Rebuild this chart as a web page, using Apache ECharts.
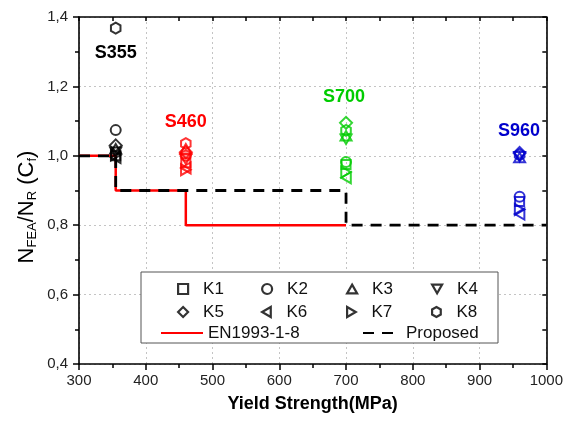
<!DOCTYPE html>
<html>
<head>
<meta charset="utf-8">
<script src="https://cdn.jsdelivr.net/npm/echarts@6/dist/echarts.min.js"></script>
<style>html,body{margin:0;padding:0;background:#fff}#c{width:566px;height:424px}</style>
</head>
<body>
<div id="c"></div>
<script>
// ---- data ----
const groupYield = [355, 460, 700, 960];
const groupNames = ['S355', 'S460', 'S700', 'S960'];
const K1 = [1.000, 0.980, 0.975, 0.868];
const K2 = [1.074, 1.000, 0.982, 0.882];
const K3 = [1.020, 1.020, 1.058, 0.995];
const K4 = [1.010, 0.990, 1.048, 0.997];
const K5 = [1.030, 1.010, 1.095, 1.008];
const K6 = [0.995, 0.965, 0.937, 0.832];
const K7 = [1.002, 0.960, 0.953, 0.845];
const K8 = [1.368, 1.035, 1.073, 1.003];
const enX = [300, 355, 355, 460, 460, 700];
const enY = [1.0, 1.0, 0.9, 0.9, 0.8, 0.8];
const propX = [300, 355, 355, 700, 700, 1000];
const propY = [1.0, 1.0, 0.9, 0.9, 0.8, 0.8];
const labelX = [355, 460, 697, 959];
const labelY = [1.296, 1.097, 1.169, 1.071];
const xTicks = [300, 400, 500, 600, 700, 800, 900, 1000];
const yTicks = [0.4, 0.6, 0.8, 1.0, 1.2, 1.4];

// ---- styles ----
const groupColors = ['#000000', '#ff0000', '#00cc00', '#0000cc'];
const FONT = "'Liberation Sans', Arial, sans-serif";
const symbols = {
  K1: 'path://M0,0 L10,0 L10,10 L0,10 Z',
  K2: 'circle',
  K3: 'path://M5,0 L10,8.66 L0,8.66 Z',
  K4: 'path://M0,0 L10,0 L5,8.66 Z',
  K5: 'path://M5,0 L10,5 L5,10 L0,5 Z',
  K6: 'path://M8.66,0 L8.66,10 L0,5 Z',
  K7: 'path://M0,0 L0,10 L8.66,5 Z',
  K8: 'path://M5,0 L9.33,2.5 L9.33,7.5 L5,10 L0.67,7.5 L0.67,2.5 Z'
};
const sizes = {K1: 9, K2: 10, K3: 11, K4: 11, K5: 12, K6: 11, K7: 11, K8: 11};
const kData = {K1, K2, K3, K4, K5, K6, K7, K8};

const scatterSeries = Object.keys(kData).map(k => ({
  name: k,
  type: 'scatter',
  symbol: symbols[k],
  symbolSize: sizes[k],
  symbolKeepAspect: true,
  z: 5,
  itemStyle: {color: 'rgba(255,255,255,0)', borderColor: '#000', borderWidth: 2},
  data: groupYield.map((x, i) => ({
    value: [x, kData[k][i]],
    itemStyle: {borderColor: groupColors[i]}
  }))
}));

const fmt = v => v.toFixed(1).replace('.', ',');

const legendText = {fontSize: 17, lineHeight: 18, color: '#111', fontFamily: FONT};
const legendPos = [
  ['K1', 182, 289], ['K2', 266, 289], ['K3', 351, 289], ['K4', 436, 289],
  ['K5', 182, 312], ['K6', 266, 312], ['K7', 351, 312], ['K8', 436, 312]
];
const legends = legendPos.map(([n, cx, cy]) => ({
  data: [n], left: cx - 5, top: cy - 9, padding: 0, itemWidth: 10, itemHeight: 10,
  selectedMode: false,
  itemStyle: {borderWidth: 2.2},
  textStyle: Object.assign({padding: [0, 0, 0, 10]}, legendText)
}));
legends.push({
  data: ['EN1993-1-8'], left: 160, top: 324, padding: 0, itemWidth: 42, itemHeight: 10,
  selectedMode: false, itemStyle: {opacity: 0}, textStyle: legendText
});
legends.push({
  data: ['Proposed'], left: 362, top: 324, padding: 0, itemWidth: 32, itemHeight: 10,
  selectedMode: false, itemStyle: {opacity: 0},
  textStyle: Object.assign({padding: [0, 0, 0, 6]}, legendText)
});

const axisCommon = {
  axisLine: {show: true, onZero: false, lineStyle: {color: '#000', width: 1.6}},
};

const option = {
  animation: false,
  backgroundColor: '#fff',
  grid: {left: 79, right: 17, top: 17, bottom: 60},
  legend: legends,
  xAxis: [{
    type: 'value', position: 'bottom', min: xTicks[0], max: xTicks[xTicks.length - 1], interval: 100,
    ...axisCommon,
    name: 'Yield Strength(MPa)', nameLocation: 'middle', nameGap: 31,
    nameTextStyle: {fontSize: 18, fontWeight: 'bold', color: '#000', fontFamily: FONT},
    axisTick: {show: true, inside: false, length: 6, lineStyle: {color: '#000', width: 1.5}},
    minorTick: {show: true, splitNumber: 2, length: 4, lineStyle: {color: '#000', width: 1.5}},
    axisLabel: {fontSize: 15, color: '#222', margin: 9, fontFamily: FONT, formatter: v => String(v)},
    splitLine: {show: true, lineStyle: {type: [2, 3], color: '#c4c4c4', width: 1}}
  }, {
    type: 'value', position: 'top', min: xTicks[0], max: xTicks[xTicks.length - 1], interval: 100,
    ...axisCommon,
    axisTick: {show: true, inside: true, length: 4, lineStyle: {color: '#000', width: 1.5}},
    minorTick: {show: true, splitNumber: 2, length: 4, lineStyle: {color: '#000', width: 1.5}},
    axisLabel: {show: false}, splitLine: {show: false}
  }],
  yAxis: [{
    type: 'value', position: 'left', min: yTicks[0], max: yTicks[yTicks.length - 1], interval: 0.2,
    ...axisCommon,
    axisTick: {show: true, inside: false, length: 6, lineStyle: {color: '#000', width: 1.5}},
    minorTick: {show: true, splitNumber: 2, length: 4, lineStyle: {color: '#000', width: 1.5}},
    axisLabel: {fontSize: 15, color: '#222', margin: 11, fontFamily: FONT, formatter: fmt},
    splitLine: {show: true, lineStyle: {type: [2, 3], color: '#c4c4c4', width: 1}}
  }, {
    type: 'value', position: 'right', min: yTicks[0], max: yTicks[yTicks.length - 1], interval: 0.2,
    ...axisCommon,
    axisTick: {show: true, inside: true, length: 4, lineStyle: {color: '#000', width: 1.5}},
    minorTick: {show: true, splitNumber: 2, length: 4, lineStyle: {color: '#000', width: 1.5}},
    axisLabel: {show: false}, splitLine: {show: false}
  }],
  graphic: [{
    type: 'rect', z: 3, shape: {x: 141, y: 272, width: 357, height: 71},
    style: {fill: '#fff', stroke: '#555', lineWidth: 1}
  }, {
    type: 'text', z: 10, x: 27, y: 207, rotation: Math.PI / 2,
    style: {
      text: '{m|N}{s|FEA}{m|/N}{s|R}{m| (C}{s|f}{m|)}',
      align: 'center', verticalAlign: 'middle',
      rich: {
        m: {fontSize: 22, lineHeight: 24, fontFamily: FONT, fill: '#000', verticalAlign: 'middle'},
        s: {fontSize: 13, lineHeight: 11, fontFamily: FONT, fill: '#000', verticalAlign: 'bottom'}
      }
    }
  }],
  series: [
    {
      name: 'EN1993-1-8', type: 'line', symbol: 'none', z: 3,
      lineStyle: {color: '#ff0000', width: 2.5},
      itemStyle: {color: '#ff0000'},
      data: enX.map((x, i) => [x, enY[i]])
    },
    {
      name: 'Proposed', type: 'line', symbol: 'none', z: 4,
      lineStyle: {color: '#000', width: 2.8, type: [11, 8]},
      itemStyle: {color: '#000'},
      data: propX.map((x, i) => [x, propY[i]])
    },
    ...scatterSeries,
    {
      name: 'labels', type: 'scatter', symbolSize: 0, z: 6,
      itemStyle: {color: '#fff', opacity: 1},
      label: {show: true, position: 'inside', fontSize: 18, fontWeight: 'bold', fontFamily: FONT,
        opacity: 1, textBorderWidth: 0, formatter: p => groupNames[p.dataIndex]},
      data: labelX.map((x, i) => ({value: [x, labelY[i]], label: {color: groupColors[i]}}))
    }
  ]
};

const chart = echarts.init(document.getElementById('c'));
chart.setOption(option);
</script>
</body>
</html>
